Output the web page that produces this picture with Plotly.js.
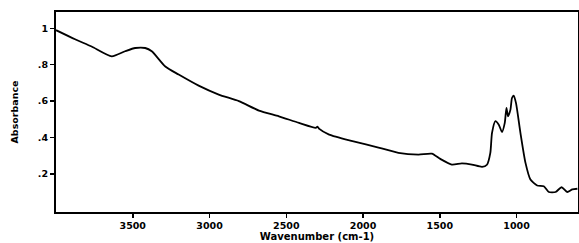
<!DOCTYPE html>
<html><head><meta charset="utf-8">
<script src="https://cdn.plot.ly/plotly-3.0.1.min.js"></script>
<style>html,body{margin:0;padding:0;background:#fff}#c{width:579px;height:243px}</style>
</head><body><div id="c"></div>
<script>
const wavenumber = [4000,3876,3768,3637,3550,3484,3419,3376,3288,3201,3071,2940,2809,2678,2548,2417,2308,2297,2285,2221,2069,1893,1770,1639,1552,1497,1422,1356,1291,1225,1193,1171,1160,1138,1116,1095,1077,1066,1056,1040,1030,1019,1004,975,942,910,866,823,790,746,707,670,637,604];
const absorbance = [0.99,0.94,0.90,0.846,0.874,0.892,0.892,0.874,0.79,0.746,0.685,0.636,0.60,0.548,0.516,0.48,0.453,0.46,0.447,0.416,0.38,0.343,0.315,0.306,0.311,0.282,0.251,0.257,0.251,0.238,0.25,0.315,0.425,0.49,0.47,0.43,0.48,0.563,0.516,0.553,0.617,0.63,0.59,0.425,0.26,0.169,0.136,0.132,0.10,0.10,0.126,0.10,0.114,0.118];
const xTicks = [3500,3000,2500,2000,1500,1000];
const xTickText = ['3500','3000','2500','2000','1500','1000'];
const yTicks = [0.2,0.4,0.6,0.8,1];
const yTickText = ['.2','.4','.6','.8','1'];

const fam = 'DejaVu Sans, Arial, sans-serif';
Plotly.newPlot('c', [{
  x: wavenumber, y: absorbance, type:'scatter', mode:'lines',
  line:{color:'#000', width:1.8, shape:'spline', smoothing:0.6}
}], {
  width:579, height:243,
  margin:{l:56, r:1, t:12, b:31},
  paper_bgcolor:'#fff', plot_bgcolor:'#fff',
  showlegend:false,
  font:{family:fam, size:9, color:'#000', weight:'bold'},
  xaxis:{
    range:[4000,600], tickvals:xTicks, ticktext:xTickText,
    ticks:'outside', ticklen:4, tickwidth:1.5, tickcolor:'#000',
    showline:true, linecolor:'#000', linewidth:2, mirror:true,
    showgrid:false, zeroline:false,
    tickfont:{family:fam, size:9.5, color:'#000', weight:'bold'},
    title:{text:'Wavenumber (cm-1)', standoff:1, font:{family:fam, size:10, color:'#000', weight:'bold'}}
  },
  yaxis:{
    range:[-0.01,1.09], tickvals:yTicks, ticktext:yTickText,
    ticks:'outside', ticklen:4, tickwidth:1.5, tickcolor:'#000',
    showline:true, linecolor:'#000', linewidth:2, mirror:true,
    showgrid:false, zeroline:false,
    tickfont:{family:fam, size:9.5, color:'#000', weight:'bold'},
    title:{text:'Absorbance', standoff:18, font:{family:fam, size:9.5, color:'#000', weight:'bold'}}
  }
}, {staticPlot:true, displayModeBar:false});
</script>
</body></html>
